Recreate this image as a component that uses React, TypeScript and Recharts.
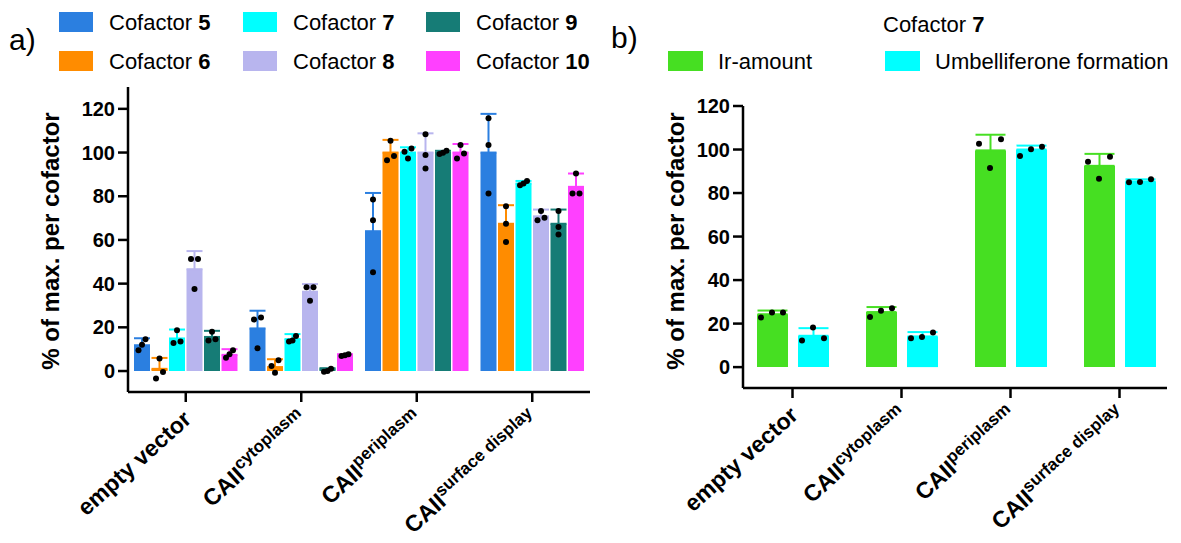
import React from 'react'
import { ComposedChart, Bar, Scatter, ErrorBar, XAxis, YAxis } from 'recharts'

const FONT = '"Liberation Sans", Arial, Helvetica, sans-serif'

// categories shared by both panels, "^" marks the superscript part
const categories = ['empty vector', 'CAII^cytoplasm', 'CAII^periplasm', 'CAII^surface display']

// panel a: one entry per cofactor, values per category
const cofactorNames = ['Cofactor 5', 'Cofactor 6', 'Cofactor 7', 'Cofactor 8', 'Cofactor 9', 'Cofactor 10']
const cofactorColors = ['#2b7fe0', '#ff8c00', '#00ffff', '#b8b5ee', '#167c76', '#ff40ff']
const cofactorMeans = [
  [11.8, 19.5, 64.0, 100.0],
  [1.0, 1.8, 100.0, 67.4],
  [14.9, 14.6, 100.0, 85.8],
  [46.6, 36.3, 100.0, 70.8],
  [15.6, 0.8, 100.0, 67.4],
  [7.4, 7.2, 100.0, 84.3],
]
const cofactorSD = [
  [3.2, 8.1, 17.5, 17.7],
  [5.0, 3.6, 5.8, 8.5],
  [4.1, 2.3, 2.4, 1.2],
  [8.3, 3.5, 8.8, 3.1],
  [2.8, 0.5, 0.8, 6.5],
  [2.6, 0.5, 3.9, 6.1],
]
const cofactorReps = [
  [[14.5, 12.0, 9.5], [24.5, 23.6, 10.4], [78.5, 69.0, 45.2], [115.7, 103.4, 81.2]],
  [[5.7, -0.5, -3.4], [4.9, 2.3, -0.8], [105.4, 98.4, 96.5], [75.4, 67.4, 59.0]],
  [[18.7, 13.5, 12.8], [16.0, 14.0, 13.5], [101.9, 100.4, 97.3], [87.0, 85.8, 85.0]],
  [[51.3, 51.3, 37.5], [38.3, 38.3, 32.2], [108.4, 98.9, 92.7], [73.3, 70.2, 69.0]],
  [[18.0, 14.5, 14.0], [1.0, 0.0, -0.3], [100.8, 99.9, 99.3], [73.3, 65.9, 62.5]],
  [[9.5, 7.7, 6.1], [7.7, 7.2, 6.9], [103.4, 99.6, 97.3], [90.4, 81.2, 81.2]],
]

// panel b: cofactor 7 only
const seriesNames = ['Ir-amount', 'Umbelliferone formation']
const seriesColors = ['#46df22', '#00ffff']
const irMeans = [24.3, 25.3, 99.6, 92.5]
const irSD = [1.7, 2.3, 7.2, 5.5]
const irReps = [[22.8, 25.1, 25.1], [25.9, 23.0, 27.1], [102.6, 104.7, 91.5], [94.4, 86.6, 96.7]]
const umbMeans = [14.4, 14.1, 100.0, 85.3]
const umbSD = [3.5, 2.0, 1.8, 1.0]
const umbReps = [[18.2, 12.2, 13.3], [13.3, 15.9, 13.8], [100.1, 97.0, 101.3], [85.0, 86.3, 85.1]]

const yTicks = [0, 20, 40, 60, 80, 100, 120]

const BAR_A = 16
const GAP_A = 1.5
const BAR_B = 31
const GAP_B = 10

// spread replicate dots sideways when they would overlap
function spreadOffsets(vals: number[], threshold: number, spread: number) {
  const order = vals.map((_, i) => i).sort((a, b) => vals[a] - vals[b])
  const dx = vals.map(() => 0)
  let start = 0
  for (let j = 1; j <= order.length; j++) {
    if (j === order.length || vals[order[j]] - vals[order[j - 1]] > threshold) {
      const n = j - start
      for (let t = start; t < j; t++) {
        dx[order[t]] = n === 1 ? 0 : -spread + (t - start) * ((2 * spread) / (n - 1))
      }
      start = j
    }
  }
  return dx
}

const tableA = categories.map((name, ci) => {
  const row: any = { name }
  cofactorNames.forEach((_, k) => {
    row[`m${k}`] = cofactorMeans[k][ci]
    row[`e${k}`] = [0, cofactorSD[k][ci]]
    cofactorReps[k][ci].forEach((v, r) => {
      row[`r${k}_${r}`] = v
    })
  })
  return row
})

const bMeans = [irMeans, umbMeans]
const bSD = [irSD, umbSD]
const bReps = [irReps, umbReps]
const tableB = categories.map((name, ci) => {
  const row: any = { name }
  seriesNames.forEach((_, k) => {
    row[`m${k}`] = bMeans[k][ci]
    row[`e${k}`] = [0, bSD[k][ci]]
    bReps[k][ci].forEach((v, r) => {
      row[`r${k}_${r}`] = v
    })
  })
  return row
})

const dotShape = (reps: number[][][], k: number, r: number, nBars: number, pitch: number, thr: number, spread: number) =>
  (props: any) => {
    if (props.cx == null || props.cy == null) return <g />
    const ci = categories.indexOf(props.payload?.name)
    const jitter = ci >= 0 ? spreadOffsets(reps[k][ci], thr, spread)[r] : 0
    const dx = (k - (nBars - 1) / 2) * pitch + jitter
    return <circle cx={props.cx + dx} cy={props.cy} r={3} fill="#000" />
  }

const CatTick = (props: any) => {
  const { x, y, payload } = props
  const [base, sup] = String(payload.value).split('^')
  return (
    <g transform={`translate(${x + 7},${y + 17})`}>
      <text transform="rotate(-42)" textAnchor="end" fontFamily={FONT} fontWeight="bold" fontSize={23} fill="#000">
        {base}
        {sup ? (
          <tspan fontSize={17} dy={-9}>
            {sup}
          </tspan>
        ) : null}
      </text>
    </g>
  )
}

const YTitle = ({ cx }: { cx: number }) => (
  <text
    x={cx}
    y={241}
    transform={`rotate(-90, ${cx}, 241)`}
    textAnchor="middle"
    dominantBaseline="central"
    fontFamily={FONT}
    fontWeight="bold"
    fontSize={24}
    fill="#000"
  >
    % of max. per cofactor
  </text>
)

const axisStroke = { stroke: '#000', strokeWidth: 2.5 }
const tickFont = { fontSize: 20, fontWeight: 'bold', fill: '#000', fontFamily: FONT }

const LegendLabel = ({ x, y, name }: { x: number; y: number; name: string }) => {
  const parts = name.split(' ')
  const num = /^\d+$/.test(parts[parts.length - 1]) ? parts.pop() : null
  return (
    <text x={x} y={y} fontFamily={FONT} fontSize={22} fill="#000">
      {parts.join(' ')}
      {num ? <tspan fontWeight="bold">{' ' + num}</tspan> : null}
    </text>
  )
}

const Legends = () => {
  const colX = [59, 243, 426]
  const rowY = [12, 51]
  return (
    <svg width={1181} height={90} style={{ position: 'absolute', left: 0, top: 0 }}>
      <text x={9} y={50} fontFamily={FONT} fontSize={30} fill="#000">
        a)
      </text>
      {cofactorNames.map((n, i) => {
        const col = Math.floor(i / 2)
        const row = i % 2
        return (
          <g key={n}>
            <rect x={colX[col]} y={rowY[row]} width={34} height={20} fill={cofactorColors[i]} />
            <LegendLabel x={colX[col] + 50} y={rowY[row] + 18} name={n} />
          </g>
        )
      })}
      <text x={611} y={48} fontFamily={FONT} fontSize={30} fill="#000">
        b)
      </text>
      <LegendLabel x={883} y={32} name="Cofactor 7" />
      {seriesNames.map((n, i) => {
        const sx = [668, 885][i]
        return (
          <g key={n}>
            <rect x={sx} y={51} width={35} height={20} fill={seriesColors[i]} />
            <LegendLabel x={sx + 50} y={69} name={n} />
          </g>
        )
      })}
    </svg>
  )
}

export default function App() {
  return (
    <div style={{ position: 'absolute', left: 0, top: 0, width: 1181, height: 543, background: '#fff' }}>
      <div style={{ position: 'absolute', left: 0, top: 0 }}>
        <ComposedChart width={600} height={543} data={tableA} margin={{ top: 87, right: 10, bottom: 11, left: 60 }} barGap={GAP_A}>
          <XAxis
            dataKey="name"
            type="category"
            interval={0}
            height={140}
            tickSize={10}
            axisLine={axisStroke}
            tickLine={axisStroke}
            tick={<CatTick />}
          />
          <YAxis
            type="number"
            domain={[-9.6, 130]}
            ticks={yTicks}
            allowDataOverflow
            width={68}
            tickSize={10}
            tickMargin={3}
            axisLine={axisStroke}
            tickLine={axisStroke}
            tick={tickFont}
            label={{ content: () => <YTitle cx={50} /> }}
          />
          {cofactorNames.map((n, k) => (
            <Bar key={n} dataKey={`m${k}`} name={n} fill={cofactorColors[k]} barSize={BAR_A} isAnimationActive={false}>
              <ErrorBar dataKey={`e${k}`} direction="y" width={8} strokeWidth={2} stroke={cofactorColors[k]} />
            </Bar>
          ))}
          {cofactorNames.map((n, k) =>
            [0, 1, 2].map((r) => (
              <Scatter
                key={`${n}-${r}`}
                dataKey={`r${k}_${r}`}
                isAnimationActive={false}
                shape={dotShape(cofactorReps, k, r, cofactorNames.length, BAR_A + GAP_A, 3, 3.5)}
              />
            ))
          )}
        </ComposedChart>
      </div>
      <div style={{ position: 'absolute', left: 600, top: 0 }}>
        <ComposedChart width={581} height={543} data={tableB} margin={{ top: 106, right: 14, bottom: 15, left: 70 }} barGap={GAP_B}>
          <XAxis
            dataKey="name"
            type="category"
            interval={0}
            height={140}
            tickSize={10}
            padding={{ left: -5, right: -7 }}
            axisLine={axisStroke}
            tickLine={axisStroke}
            tick={<CatTick />}
          />
          <YAxis
            type="number"
            domain={[-9.6, 120]}
            ticks={yTicks}
            allowDataOverflow
            width={73}
            tickSize={10}
            tickMargin={3}
            axisLine={axisStroke}
            tickLine={axisStroke}
            tick={tickFont}
            label={{ content: () => <YTitle cx={75} /> }}
          />
          {seriesNames.map((n, k) => (
            <Bar key={n} dataKey={`m${k}`} name={n} fill={seriesColors[k]} barSize={BAR_B} isAnimationActive={false}>
              <ErrorBar dataKey={`e${k}`} direction="y" width={15} strokeWidth={2} stroke={seriesColors[k]} />
            </Bar>
          ))}
          {seriesNames.map((n, k) =>
            [0, 1, 2].map((r) => (
              <Scatter
                key={`${n}-${r}`}
                dataKey={`r${k}_${r}`}
                isAnimationActive={false}
                shape={dotShape(bReps, k, r, seriesNames.length, BAR_B + GAP_B, 4, 11)}
              />
            ))
          )}
        </ComposedChart>
      </div>
      <Legends />
    </div>
  )
}
